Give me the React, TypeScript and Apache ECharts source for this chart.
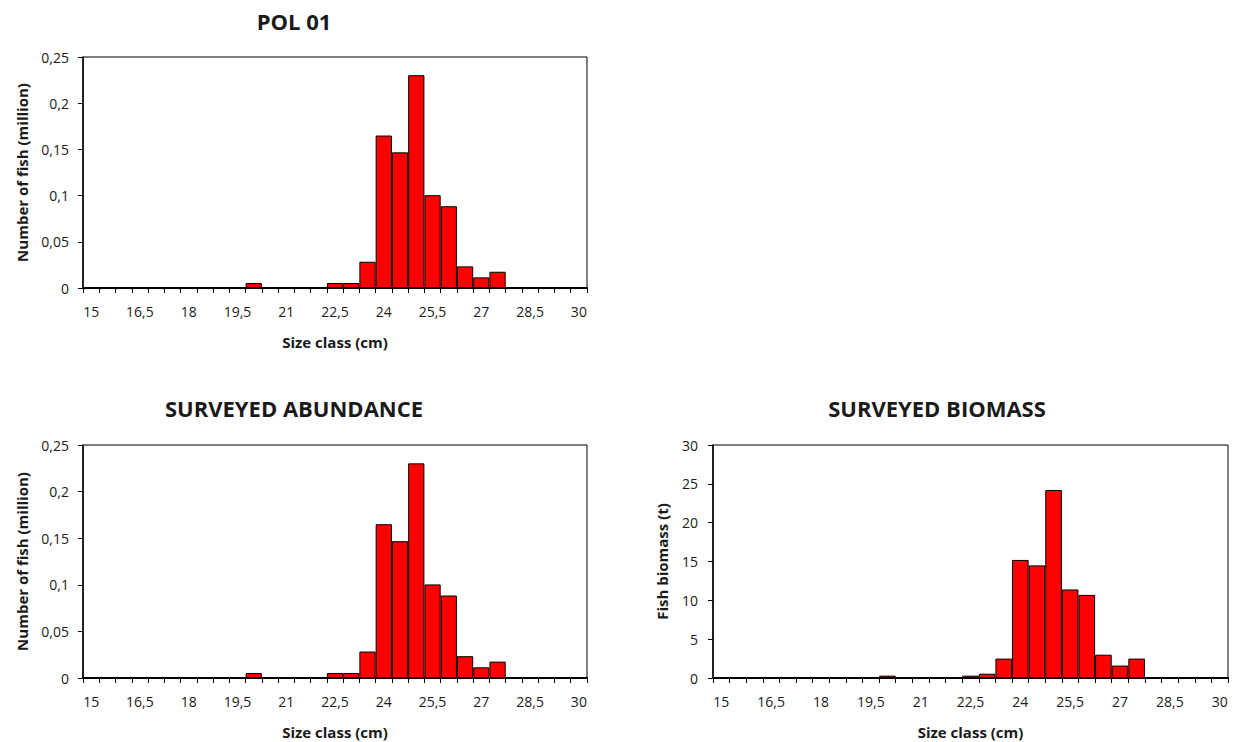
import React, { useEffect, useRef } from "react";
import * as echarts from "echarts";

const sizeClasses: string[] = [
  "15", "15,5", "16", "16,5", "17", "17,5", "18", "18,5", "19", "19,5",
  "20", "20,5", "21", "21,5", "22", "22,5", "23", "23,5", "24", "24,5",
  "25", "25,5", "26", "26,5", "27", "27,5", "28", "28,5", "29", "29,5", "30",
];

const pol01Abundance: number[] = [
  0, 0, 0, 0, 0, 0, 0, 0, 0, 0,
  0.0054, 0, 0, 0, 0, 0.0054, 0.0054, 0.0284, 0.165, 0.1468,
  0.2303, 0.1004, 0.0885, 0.0234, 0.0115, 0.0176, 0, 0, 0, 0, 0,
];

const surveyedAbundance: number[] = [
  0, 0, 0, 0, 0, 0, 0, 0, 0, 0,
  0.0054, 0, 0, 0, 0, 0.0054, 0.0054, 0.0284, 0.165, 0.1468,
  0.2303, 0.1004, 0.0885, 0.0234, 0.0115, 0.0176, 0, 0, 0, 0, 0,
];

const surveyedBiomass: number[] = [
  0, 0, 0, 0, 0, 0, 0, 0, 0, 0,
  0.3, 0, 0, 0, 0, 0.3, 0.55, 2.5, 15.2, 14.5,
  24.2, 11.4, 10.7, 3.0, 1.6, 2.5, 0, 0, 0, 0, 0,
];

const chartTitles: string[] = ["POL 01", "SURVEYED ABUNDANCE", "SURVEYED BIOMASS"];
const xAxisName = "Size class (cm)";
const yAxisNames: string[] = ["Number of fish (million)", "Number of fish (million)", "Fish biomass (t)"];

const FONT = "'Open Sans', 'Noto Sans', sans-serif";

export default function App() {
  const ref = useRef<HTMLDivElement>(null);

  useEffect(() => {
    if (!ref.current) return;
    const chart = echarts.init(ref.current, undefined, { renderer: "svg" });

    const grids = [
      { left: 83, top: 57, width: 504, height: 231 },
      { left: 83, top: 445, width: 504, height: 233 },
      { left: 713, top: 445, width: 515, height: 233 },
    ];

    const commaFmt = (v: number) => {
      const r = Math.round(v * 1000) / 1000;
      return String(r).replace(".", ",");
    };

    const yCfg = [
      { max: 0.25, interval: 0.05, nameGap: 54, margin: 14 },
      { max: 0.25, interval: 0.05, nameGap: 54, margin: 14 },
      { max: 30, interval: 5, nameGap: 44, margin: 15 },
    ];

    const datasets = [pol01Abundance, surveyedAbundance, surveyedBiomass];

    const option: any = {
      animation: false,
      backgroundColor: "#ffffff",
      textStyle: { fontFamily: FONT },
      grid: grids.map((g) => ({
        ...g,
        show: true,
        borderColor: "#000",
        borderWidth: 1,
        backgroundColor: "transparent",
        containLabel: false,
      })),
      xAxis: grids.map((_, i) => ({
        type: "category",
        gridIndex: i,
        data: sizeClasses,
        boundaryGap: true,
        name: xAxisName,
        nameLocation: "middle",
        nameGap: 46,
        nameTextStyle: { fontFamily: FONT, fontSize: 15, fontWeight: "bold", color: "#1a1a1a" },
        axisLine: { show: true, lineStyle: { color: "#000", width: 2 } },
        axisTick: { show: true, interval: 0, inside: false, length: 5, lineStyle: { color: "#000", width: 1 } },
        axisLabel: { interval: 2, margin: 16, fontFamily: FONT, fontSize: 14, color: "#1a1a1a" },
        splitLine: { show: false },
      })),
      yAxis: grids.map((_, i) => ({
        type: "value",
        gridIndex: i,
        min: 0,
        max: yCfg[i].max,
        interval: yCfg[i].interval,
        name: yAxisNames[i],
        nameLocation: "middle",
        nameGap: yCfg[i].nameGap,
        nameTextStyle: { fontFamily: FONT, fontSize: 15, fontWeight: "bold", color: "#1a1a1a" },
        axisLine: { show: true, lineStyle: { color: "#000", width: 1.5 } },
        axisTick: { show: true, inside: false, length: 5, lineStyle: { color: "#000", width: 1 } },
        axisLabel: { margin: yCfg[i].margin, fontFamily: FONT, fontSize: 14, color: "#1a1a1a", formatter: commaFmt },
        splitLine: { show: false },
      })),
      series: datasets.map((d, i) => ({
        type: "bar",
        xAxisIndex: i,
        yAxisIndex: i,
        data: d,
        barCategoryGap: "0%",
        itemStyle: { color: "#ff0000", borderColor: "#000", borderWidth: 1 },
        emphasis: { disabled: true },
      })),
      graphic: [
        { type: "text", x: 294, y: 21, style: { text: chartTitles[0], font: `bold 22px ${FONT}`, fill: "#1a1a1a", textAlign: "center", textVerticalAlign: "middle" } },
        { type: "text", x: 294, y: 408, style: { text: chartTitles[1], font: `bold 22px ${FONT}`, fill: "#1a1a1a", textAlign: "center", textVerticalAlign: "middle" } },
        { type: "text", x: 937, y: 408, style: { text: chartTitles[2], font: `bold 22px ${FONT}`, fill: "#1a1a1a", textAlign: "center", textVerticalAlign: "middle" } },
      ],
    };

    chart.setOption(option);
    return () => chart.dispose();
  }, []);

  return (
    <div
      ref={ref}
      style={{ position: "fixed", left: 0, top: 0, width: 1241, height: 742, background: "#fff" }}
    />
  );
}
